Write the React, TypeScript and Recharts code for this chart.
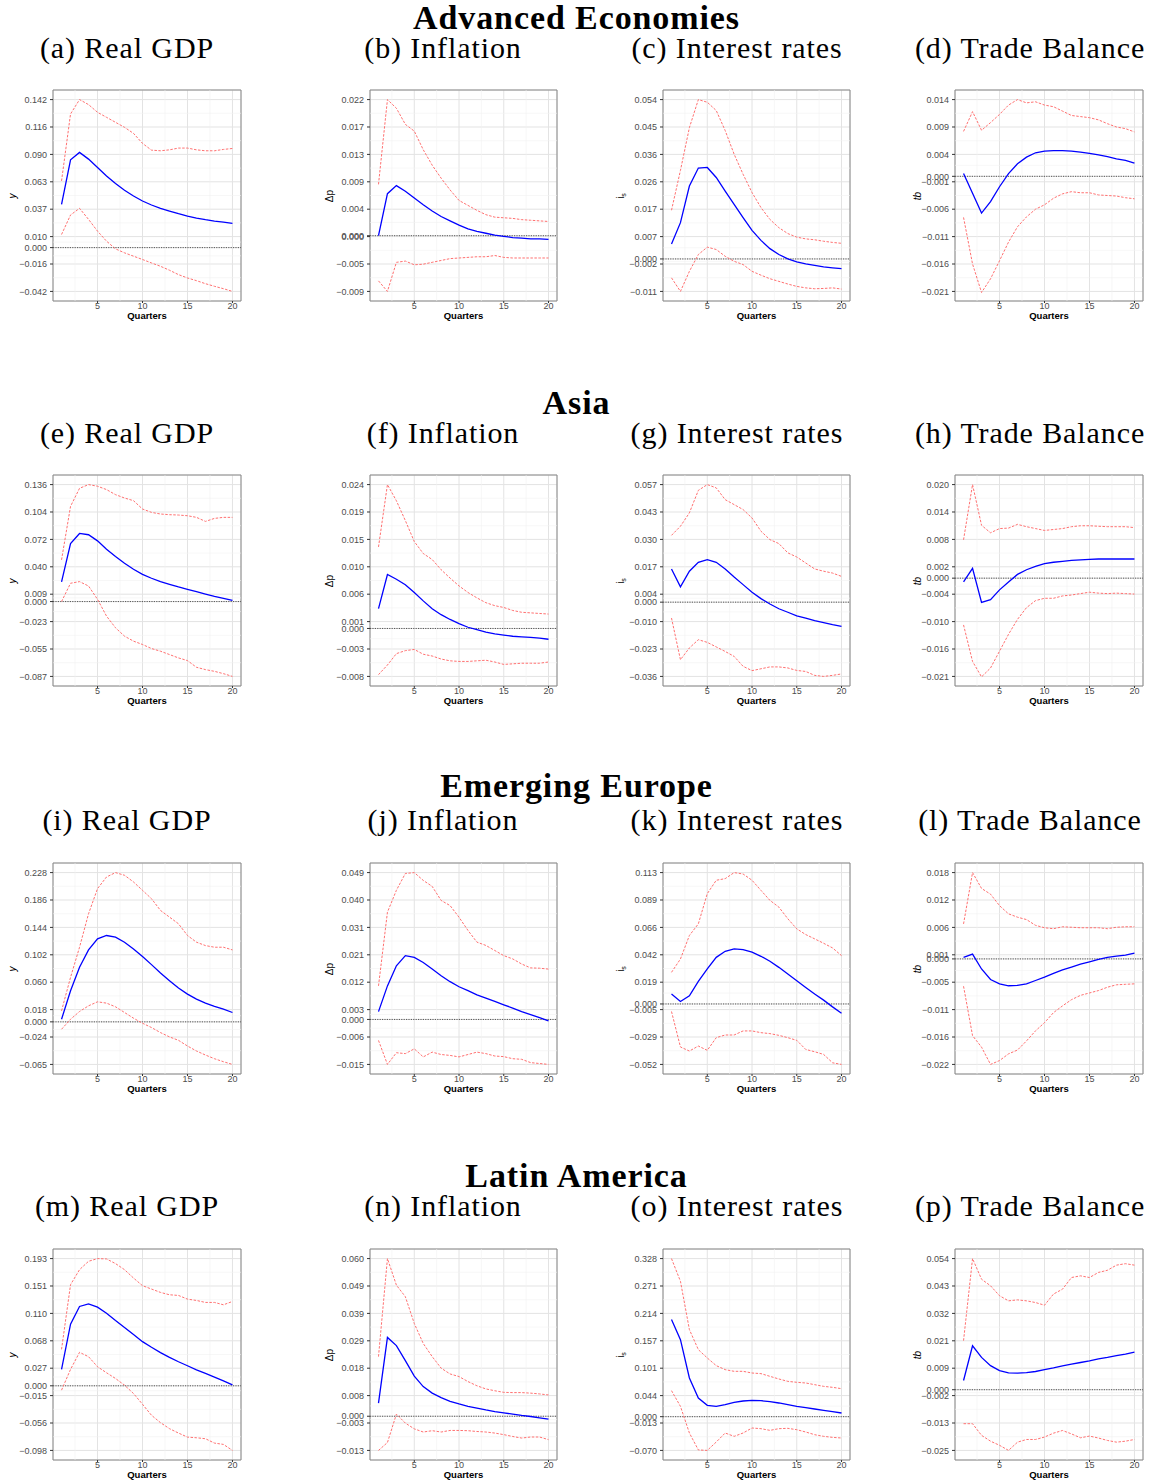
import {
  CartesianGrid,
  Line,
  LineChart,
  ReferenceArea,
  ReferenceLine,
  XAxis,
  YAxis,
} from "recharts";

const quarters = [1, 2, 3, 4, 5, 6, 7, 8, 9, 10, 11, 12, 13, 14, 15, 16, 17, 18, 19, 20];

// Advanced Economies
const advGdpMid = [0.0415, 0.0842, 0.0913, 0.0849, 0.0768, 0.0688, 0.0614, 0.055, 0.0495, 0.0447, 0.0409, 0.0377, 0.0351, 0.0325, 0.0303, 0.0284, 0.0268, 0.0255, 0.0245, 0.0232];
const advGdpUp = [0.064, 0.1282, 0.142, 0.1372, 0.1298, 0.125, 0.1202, 0.1154, 0.1096, 0.1, 0.0935, 0.0929, 0.0938, 0.0955, 0.0955, 0.0938, 0.0929, 0.0929, 0.0942, 0.0951];
const advGdpLo = [0.0126, 0.0313, 0.0377, 0.0271, 0.0158, 0.0062, -0.0012, -0.005, -0.0082, -0.0114, -0.0147, -0.0179, -0.0217, -0.0259, -0.0291, -0.0317, -0.0346, -0.0371, -0.0394, -0.042];
const advInfMid = [0.0, 0.0068, 0.0081, 0.0072, 0.0061, 0.005, 0.004, 0.0031, 0.0024, 0.0017, 0.0011, 0.0007, 0.0004, 0.0001, -0.0001, -0.0003, -0.0004, -0.0005, -0.0005, -0.0006];
const advInfUp = [0.0083, 0.022, 0.0206, 0.018, 0.0169, 0.0139, 0.0114, 0.0093, 0.0074, 0.0057, 0.0049, 0.0041, 0.0034, 0.003, 0.0029, 0.0028, 0.0026, 0.0025, 0.0024, 0.0023];
const advInfLo = [-0.0073, -0.009, -0.0043, -0.0041, -0.0047, -0.0046, -0.0043, -0.004, -0.0037, -0.0036, -0.0035, -0.0034, -0.0034, -0.0032, -0.0035, -0.0036, -0.0036, -0.0036, -0.0036, -0.0036];
const advRateMid = [0.0051, 0.0123, 0.0247, 0.0308, 0.031, 0.0276, 0.023, 0.0185, 0.014, 0.0097, 0.0063, 0.0035, 0.0015, 0.0, -0.001, -0.0017, -0.0022, -0.0027, -0.003, -0.0033];
const advRateUp = [0.0165, 0.03, 0.0445, 0.054, 0.0531, 0.0503, 0.0435, 0.0355, 0.0287, 0.0225, 0.0174, 0.0134, 0.0106, 0.0086, 0.0074, 0.0068, 0.0065, 0.006, 0.0056, 0.0053];
const advRateLo = [-0.0064, -0.011, -0.0042, 0.0015, 0.004, 0.0032, 0.0009, -0.0008, -0.0019, -0.0042, -0.0055, -0.0067, -0.0076, -0.0085, -0.0093, -0.0098, -0.0101, -0.01, -0.0098, -0.0102];
const advTbMid = [0.0005, -0.0031, -0.0067, -0.0046, -0.0019, 0.0005, 0.0023, 0.0035, 0.0043, 0.0046, 0.0047, 0.0047, 0.0046, 0.0044, 0.0042, 0.0039, 0.0036, 0.0032, 0.0029, 0.0024];
const advTbUp = [0.0082, 0.0118, 0.0084, 0.0098, 0.0113, 0.013, 0.014, 0.0134, 0.0136, 0.013, 0.0127, 0.0119, 0.0111, 0.0109, 0.0107, 0.0103, 0.0096, 0.009, 0.0087, 0.0081];
const advTbLo = [-0.0075, -0.016, -0.0212, -0.0187, -0.0154, -0.012, -0.0092, -0.0074, -0.006, -0.0052, -0.004, -0.0032, -0.0028, -0.003, -0.003, -0.0034, -0.0035, -0.0036, -0.0039, -0.0041];

// Asia
const asiaGdpMid = [0.0228, 0.0675, 0.0792, 0.0777, 0.0706, 0.0609, 0.0524, 0.0446, 0.0376, 0.0317, 0.0271, 0.0232, 0.0201, 0.017, 0.0142, 0.0115, 0.0088, 0.0061, 0.0037, 0.0014];
const asiaGdpUp = [0.0485, 0.1107, 0.1317, 0.136, 0.1341, 0.1302, 0.1243, 0.1204, 0.1173, 0.1076, 0.1037, 0.1018, 0.101, 0.1006, 0.0998, 0.0979, 0.0932, 0.0967, 0.0979, 0.0979];
const asiaGdpLo = [0.0, 0.0213, 0.0232, 0.0181, 0.0026, -0.0169, -0.0305, -0.0402, -0.046, -0.0499, -0.0546, -0.0577, -0.0616, -0.0655, -0.0686, -0.0764, -0.0791, -0.0811, -0.0838, -0.087];
const asiaInfMid = [0.0033, 0.009, 0.0082, 0.0073, 0.006, 0.0046, 0.0033, 0.0023, 0.0015, 0.0008, 0.0002, -0.0002, -0.0006, -0.0009, -0.0011, -0.0013, -0.0014, -0.0015, -0.0016, -0.0018];
const asiaInfUp = [0.0136, 0.024, 0.0213, 0.018, 0.0145, 0.0125, 0.0115, 0.0098, 0.0084, 0.0071, 0.006, 0.0051, 0.0043, 0.0038, 0.0035, 0.003, 0.0027, 0.0026, 0.0025, 0.0024];
const asiaInfLo = [-0.0077, -0.0061, -0.0042, -0.0037, -0.0035, -0.0043, -0.0046, -0.0051, -0.0054, -0.0055, -0.0055, -0.0054, -0.0053, -0.0056, -0.006, -0.0059, -0.0058, -0.0058, -0.0058, -0.0056];
const asiaRateMid = [0.0161, 0.0074, 0.015, 0.0193, 0.0206, 0.0193, 0.0161, 0.0122, 0.0085, 0.0048, 0.0017, -0.0009, -0.0032, -0.0049, -0.0066, -0.0078, -0.009, -0.0099, -0.0109, -0.0117];
const asiaRateUp = [0.0324, 0.0368, 0.0433, 0.0542, 0.057, 0.0554, 0.0497, 0.0473, 0.0449, 0.0408, 0.0344, 0.0303, 0.0284, 0.0239, 0.0219, 0.019, 0.0161, 0.015, 0.0141, 0.0125];
const asiaRateLo = [-0.0077, -0.0279, -0.0222, -0.0182, -0.0195, -0.0217, -0.0239, -0.0263, -0.0311, -0.0332, -0.0323, -0.0314, -0.0314, -0.0319, -0.0331, -0.0336, -0.0355, -0.036, -0.0355, -0.0348];
const asiaTbMid = [-0.0008, 0.0021, -0.0052, -0.0046, -0.0025, -0.0008, 0.0008, 0.0018, 0.0025, 0.0031, 0.0034, 0.0036, 0.0038, 0.0039, 0.004, 0.0041, 0.0041, 0.0041, 0.0041, 0.0041];
const asiaTbUp = [0.0082, 0.02, 0.0113, 0.0097, 0.0106, 0.0107, 0.0115, 0.011, 0.0106, 0.0102, 0.0104, 0.0106, 0.011, 0.0112, 0.0112, 0.0111, 0.011, 0.011, 0.011, 0.0108];
const asiaTbLo = [-0.01, -0.0178, -0.0211, -0.0192, -0.0156, -0.012, -0.0088, -0.0063, -0.0048, -0.0043, -0.0043, -0.0038, -0.0036, -0.0033, -0.003, -0.0032, -0.0033, -0.0032, -0.0033, -0.0034];

// Emerging Europe
const eurGdpMid = [0.004, 0.0475, 0.0833, 0.1099, 0.1268, 0.1319, 0.1293, 0.1217, 0.1114, 0.0997, 0.0874, 0.0746, 0.0629, 0.0516, 0.0424, 0.0347, 0.0286, 0.0235, 0.0194, 0.0143];
const eurGdpUp = [0.0168, 0.068, 0.114, 0.1651, 0.2035, 0.2213, 0.228, 0.2239, 0.2137, 0.2009, 0.1881, 0.1702, 0.16, 0.1498, 0.1319, 0.1217, 0.1165, 0.114, 0.114, 0.1099];
const eurGdpLo = [-0.0113, 0.004, 0.0158, 0.0245, 0.0306, 0.0286, 0.023, 0.0143, 0.0056, -0.0021, -0.0087, -0.0164, -0.023, -0.0282, -0.0369, -0.0445, -0.0507, -0.0563, -0.0609, -0.065];
const eurInfMid = [0.0026, 0.0112, 0.0179, 0.0213, 0.0207, 0.019, 0.0168, 0.0146, 0.0126, 0.0109, 0.0096, 0.0082, 0.0071, 0.006, 0.0049, 0.0038, 0.0026, 0.0016, 0.0006, -0.0005];
const eurInfUp = [0.0112, 0.0358, 0.0431, 0.0487, 0.049, 0.0464, 0.0444, 0.0397, 0.038, 0.0341, 0.0297, 0.0258, 0.0247, 0.023, 0.0213, 0.0202, 0.0185, 0.0172, 0.0171, 0.0168];
const eurInfLo = [-0.007, -0.015, -0.0111, -0.0114, -0.0098, -0.0125, -0.0109, -0.0117, -0.012, -0.0125, -0.0117, -0.0109, -0.0114, -0.0122, -0.0124, -0.0131, -0.0133, -0.0144, -0.0147, -0.015];
const eurRateMid = [0.0085, 0.0021, 0.007, 0.0194, 0.0301, 0.0401, 0.0453, 0.0473, 0.0468, 0.0445, 0.041, 0.0367, 0.0315, 0.0257, 0.02, 0.0142, 0.0085, 0.0033, -0.0025, -0.008];
const eurRateUp = [0.0272, 0.0387, 0.0589, 0.0689, 0.0949, 0.1064, 0.1078, 0.113, 0.1118, 0.1064, 0.0977, 0.0891, 0.0833, 0.0733, 0.0646, 0.0597, 0.056, 0.0522, 0.0482, 0.0416];
const eurRateLo = [-0.0065, -0.037, -0.0405, -0.0362, -0.0399, -0.029, -0.0267, -0.0267, -0.0232, -0.0232, -0.0247, -0.0255, -0.027, -0.029, -0.0313, -0.0391, -0.0411, -0.0434, -0.0506, -0.052];
const eurTbMid = [0.0003, 0.001, -0.0021, -0.0043, -0.0052, -0.0056, -0.0055, -0.0052, -0.0045, -0.0038, -0.003, -0.0023, -0.0017, -0.0011, -0.0006, -0.0001, 0.0003, 0.0006, 0.0008, 0.0012];
const eurTbUp = [0.0073, 0.018, 0.0147, 0.0135, 0.0111, 0.0094, 0.0087, 0.0082, 0.007, 0.0065, 0.0063, 0.0067, 0.0066, 0.0065, 0.0065, 0.0065, 0.0063, 0.0066, 0.0067, 0.0067];
const eurTbLo = [-0.0057, -0.016, -0.0184, -0.022, -0.0212, -0.0198, -0.019, -0.0171, -0.015, -0.0133, -0.0112, -0.0098, -0.0085, -0.0076, -0.0071, -0.0066, -0.0059, -0.0054, -0.0053, -0.0052];

// Latin America
const latGdpMid = [0.0249, 0.0934, 0.1204, 0.1244, 0.1193, 0.1102, 0.099, 0.0883, 0.0777, 0.067, 0.0584, 0.0503, 0.0431, 0.0365, 0.0304, 0.0243, 0.0188, 0.0132, 0.0076, 0.0015];
const latGdpUp = [0.0553, 0.1534, 0.1762, 0.1889, 0.193, 0.1925, 0.1854, 0.1762, 0.1635, 0.1519, 0.1468, 0.1417, 0.1381, 0.1371, 0.1315, 0.1295, 0.1265, 0.1265, 0.1229, 0.128];
const latGdpLo = [-0.0066, 0.0249, 0.0508, 0.0442, 0.0289, 0.0198, 0.0111, 0.001, -0.0117, -0.028, -0.0447, -0.0559, -0.065, -0.0717, -0.0778, -0.0788, -0.0803, -0.0869, -0.0889, -0.098];
const latInfMid = [0.005, 0.03, 0.0269, 0.0212, 0.0153, 0.0113, 0.0088, 0.0071, 0.0057, 0.0047, 0.0038, 0.0031, 0.0024, 0.0018, 0.0013, 0.0008, 0.0003, -0.0001, -0.0006, -0.0011];
const latInfUp = [0.0227, 0.06, 0.0499, 0.0455, 0.0353, 0.0277, 0.0227, 0.0183, 0.0161, 0.0151, 0.0132, 0.0116, 0.0104, 0.0097, 0.0091, 0.009, 0.009, 0.0088, 0.0085, 0.0081];
const latInfLo = [-0.013, -0.01, 0.0008, -0.0026, -0.0048, -0.006, -0.0055, -0.006, -0.0054, -0.0054, -0.0055, -0.0058, -0.006, -0.0064, -0.007, -0.0077, -0.0083, -0.0079, -0.0079, -0.0089];
const latRateMid = [0.2014, 0.1598, 0.0803, 0.0387, 0.0235, 0.0214, 0.0249, 0.0297, 0.0325, 0.0339, 0.0332, 0.0311, 0.0284, 0.0249, 0.0214, 0.0187, 0.0159, 0.0131, 0.0104, 0.0076];
const latRateUp = [0.328, 0.2809, 0.1806, 0.1391, 0.1218, 0.1059, 0.0976, 0.0941, 0.0941, 0.0906, 0.0893, 0.0837, 0.0782, 0.0733, 0.0713, 0.0699, 0.0664, 0.0629, 0.0609, 0.0581];
const latRateLo = [0.054, 0.0214, -0.0339, -0.069, -0.07, -0.0526, -0.0339, -0.0408, -0.0339, -0.0235, -0.0249, -0.0284, -0.0249, -0.0242, -0.027, -0.0318, -0.0374, -0.0408, -0.0429, -0.0443];
const latTbMid = [0.0038, 0.0181, 0.0133, 0.0099, 0.0079, 0.0069, 0.0068, 0.007, 0.0075, 0.0083, 0.009, 0.0098, 0.0105, 0.0112, 0.0119, 0.0127, 0.0133, 0.014, 0.0147, 0.0155];
const latTbUp = [0.0202, 0.054, 0.0455, 0.0428, 0.0387, 0.0366, 0.037, 0.0366, 0.0359, 0.0348, 0.0394, 0.0414, 0.0462, 0.0469, 0.0462, 0.0483, 0.0492, 0.0513, 0.0519, 0.0513];
const latTbLo = [-0.014, -0.014, -0.0188, -0.0212, -0.0229, -0.025, -0.0216, -0.0205, -0.0205, -0.0195, -0.0179, -0.0168, -0.0182, -0.0198, -0.0191, -0.0199, -0.0209, -0.0216, -0.0212, -0.0205];

// y tick labels (8 evenly spaced breaks, bottom to top); 0 is added as an extra break
const ticksA = [-0.042, -0.016, 0.01, 0.037, 0.063, 0.09, 0.116, 0.142];
const ticksB = [-0.009, -0.005, 0.0, 0.004, 0.009, 0.013, 0.017, 0.022];
const ticksC = [-0.011, -0.002, 0.007, 0.017, 0.026, 0.036, 0.045, 0.054];
const ticksD = [-0.021, -0.016, -0.011, -0.006, -0.001, 0.004, 0.009, 0.014];
const ticksE = [-0.087, -0.055, -0.023, 0.009, 0.04, 0.072, 0.104, 0.136];
const ticksF = [-0.008, -0.003, 0.001, 0.006, 0.01, 0.015, 0.019, 0.024];
const ticksG = [-0.036, -0.023, -0.01, 0.004, 0.017, 0.03, 0.043, 0.057];
const ticksH = [-0.021, -0.016, -0.01, -0.004, 0.002, 0.008, 0.014, 0.02];
const ticksI = [-0.065, -0.024, 0.018, 0.06, 0.102, 0.144, 0.186, 0.228];
const ticksJ = [-0.015, -0.006, 0.003, 0.012, 0.021, 0.031, 0.04, 0.049];
const ticksK = [-0.052, -0.029, -0.005, 0.019, 0.042, 0.066, 0.089, 0.113];
const ticksL = [-0.022, -0.016, -0.011, -0.005, 0.001, 0.006, 0.012, 0.018];
const ticksM = [-0.098, -0.056, -0.015, 0.027, 0.068, 0.11, 0.151, 0.193];
const ticksN = [-0.013, -0.003, 0.008, 0.018, 0.029, 0.039, 0.049, 0.06];
const ticksO = [-0.07, -0.013, 0.044, 0.101, 0.157, 0.214, 0.271, 0.328];
const ticksP = [-0.025, -0.013, -0.002, 0.009, 0.021, 0.032, 0.043, 0.054];

const xTicks = [5, 10, 15, 20];
const xMinor = [2.5, 7.5, 12.5, 17.5];

const groupTitles = ["Advanced Economies", "Asia", "Emerging Europe", "Latin America"];
const panelTitles = [
  ["(a) Real GDP", "(b) Inflation", "(c) Interest rates", "(d) Trade Balance"],
  ["(e) Real GDP", "(f) Inflation", "(g) Interest rates", "(h) Trade Balance"],
  ["(i) Real GDP", "(j) Inflation", "(k) Interest rates", "(l) Trade Balance"],
  ["(m) Real GDP", "(n) Inflation", "(o) Interest rates", "(p) Trade Balance"],
];

const panels = [
  [
    { mid: advGdpMid, up: advGdpUp, lo: advGdpLo, ticks: ticksA },
    { mid: advInfMid, up: advInfUp, lo: advInfLo, ticks: ticksB },
    { mid: advRateMid, up: advRateUp, lo: advRateLo, ticks: ticksC },
    { mid: advTbMid, up: advTbUp, lo: advTbLo, ticks: ticksD },
  ],
  [
    { mid: asiaGdpMid, up: asiaGdpUp, lo: asiaGdpLo, ticks: ticksE },
    { mid: asiaInfMid, up: asiaInfUp, lo: asiaInfLo, ticks: ticksF },
    { mid: asiaRateMid, up: asiaRateUp, lo: asiaRateLo, ticks: ticksG },
    { mid: asiaTbMid, up: asiaTbUp, lo: asiaTbLo, ticks: ticksH },
  ],
  [
    { mid: eurGdpMid, up: eurGdpUp, lo: eurGdpLo, ticks: ticksI },
    { mid: eurInfMid, up: eurInfUp, lo: eurInfLo, ticks: ticksJ },
    { mid: eurRateMid, up: eurRateUp, lo: eurRateLo, ticks: ticksK },
    { mid: eurTbMid, up: eurTbUp, lo: eurTbLo, ticks: ticksL },
  ],
  [
    { mid: latGdpMid, up: latGdpUp, lo: latGdpLo, ticks: ticksM },
    { mid: latInfMid, up: latInfUp, lo: latInfLo, ticks: ticksN },
    { mid: latRateMid, up: latRateUp, lo: latRateLo, ticks: ticksO },
    { mid: latTbMid, up: latTbUp, lo: latTbLo, ticks: ticksP },
  ],
];

// layout
const COLS = [
  { left: 53, w: 188, ylab: 40, title: 127 },
  { left: 370, w: 187, ylab: 40, title: 443 },
  { left: 663, w: 187, ylab: 41, title: 737 },
  { left: 955, w: 188, ylab: 37, title: 1030 },
];
const ROWS = [
  { top: 90, group: 18, sub: 48 },
  { top: 475, group: 403, sub: 433 },
  { top: 863, group: 786, sub: 820 },
  { top: 1249, group: 1176, sub: 1206 },
];
const PLOT_H = 211;
const Y_AXIS_W = 50;
const TOP_PAD = 4;
const X_AXIS_H = 25;
const SANS = "'Liberation Sans', Arial, Helvetica, sans-serif";
const SERIF = "'Liberation Serif', 'Times New Roman', serif";

function fmt(v: number) {
  const s = Math.abs(v).toFixed(3);
  return v < -0.0005 ? "\u2212" + s : s;
}

function YLabel({ kind }: { kind: number }) {
  if (kind === 0) return <span style={{ fontStyle: "italic" }}>y</span>;
  if (kind === 1) return <span>Δp</span>;
  if (kind === 2)
    return (
      <span>
        i<sub style={{ fontSize: 7, verticalAlign: -2 }}>s</sub>
      </span>
    );
  return <span style={{ fontStyle: "italic" }}>tb</span>;
}

function Panel({ r, c }: { r: number; c: number }) {
  const p = panels[r][c];
  const col = COLS[c];
  const row = ROWS[r];
  const data = quarters.map((q, i) => ({ q, mid: p.mid[i], up: p.up[i], lo: p.lo[i] }));

  const lo = p.ticks[0];
  const hi = p.ticks[p.ticks.length - 1];
  const step = (hi - lo) / (p.ticks.length - 1);
  const breaks = p.ticks.map((_, k) => lo + k * step);
  const pad = (hi - lo) * 0.05;
  const domain: [number, number] = [lo - pad, hi + pad];
  const yTicks = [...breaks, 0].sort((a, b) => a - b);
  const yMinor = yTicks.slice(1).map((v, i) => (v + yTicks[i]) / 2);

  const label = (v: number) => {
    const k = breaks.findIndex((b) => Math.abs(b - v) < 1e-12);
    return k >= 0 ? fmt(p.ticks[k]) : fmt(v);
  };

  return (
    <>
      <div style={{ position: "absolute", left: col.left - Y_AXIS_W, top: row.top - TOP_PAD }}>
        <LineChart
          width={Y_AXIS_W + col.w + 2}
          height={TOP_PAD + PLOT_H + X_AXIS_H}
          data={data}
          margin={{ top: TOP_PAD, right: 2, bottom: 0, left: 0 }}
          style={{ fontFamily: SANS }}
        >
          <XAxis
            dataKey="q"
            type="number"
            domain={[0.05, 20.95]}
            ticks={xTicks}
            allowDataOverflow
            height={X_AXIS_H}
            axisLine={false}
            tickSize={2}
            tickMargin={0}
            tickLine={{ stroke: "#333" }}
            tick={{ fontSize: 9, fill: "#4d4d4d" }}
            label={{ value: "Quarters", position: "insideBottom", offset: 7, fontSize: 9.5, fontWeight: 700, fill: "#000" }}
          />
          <YAxis
            type="number"
            domain={domain}
            ticks={yTicks}
            interval={0}
            allowDataOverflow
            width={Y_AXIS_W}
            axisLine={false}
            tickSize={3}
            tickMargin={3}
            tickLine={{ stroke: "#333" }}
            tick={{ fontSize: 9, fill: "#4d4d4d" }}
            tickFormatter={label}
          />
          {yMinor.map((v, i) => (
            <ReferenceLine key={"ym" + i} y={v} stroke="#f1f1f1" strokeWidth={0.6} />
          ))}
          {xMinor.map((v) => (
            <ReferenceLine key={"xm" + v} x={v} stroke="#f1f1f1" strokeWidth={0.6} />
          ))}
          <CartesianGrid stroke="#e3e3e3" strokeWidth={1} />
          <ReferenceLine y={0} stroke="#444" strokeDasharray="1.2 1.2" strokeWidth={0.9} />
          <Line dataKey="up" type="linear" stroke="#ff7070" strokeWidth={1} strokeDasharray="2.5 1.5" dot={false} isAnimationActive={false} />
          <Line dataKey="lo" type="linear" stroke="#ff7070" strokeWidth={1} strokeDasharray="2.5 1.5" dot={false} isAnimationActive={false} />
          <Line dataKey="mid" type="linear" stroke="#0000ff" strokeWidth={1.3} dot={false} isAnimationActive={false} />
          <ReferenceArea x1={0.05} x2={20.95} y1={domain[0]} y2={domain[1]} fill="none" fillOpacity={0} stroke="#888" strokeWidth={1} />
        </LineChart>
      </div>
      <div
        style={{
          position: "absolute",
          left: col.left - col.ylab,
          top: row.top + PLOT_H / 2,
          transform: "translate(-50%, -50%) rotate(-90deg)",
          fontFamily: SANS,
          fontSize: 10,
          lineHeight: "12px",
          color: "#000",
          whiteSpace: "nowrap",
        }}
      >
        <YLabel kind={c} />
      </div>
      <div
        style={{
          position: "absolute",
          left: col.title - 200,
          width: 400,
          top: row.sub - 18,
          height: 36,
          lineHeight: "36px",
          textAlign: "center",
          fontFamily: SERIF,
          fontSize: 30,
          letterSpacing: 0.9,
          color: "#000",
        }}
      >
        {panelTitles[r][c]}
      </div>
    </>
  );
}

export default function App() {
  return (
    <div style={{ position: "absolute", left: 0, top: 0, width: 1153, height: 1480, background: "#fff", overflow: "hidden" }}>
      {ROWS.map((row, r) => (
        <div
          key={"g" + r}
          style={{
            position: "absolute",
            left: 0,
            width: 1153,
            top: row.group - 20,
            height: 40,
            lineHeight: "40px",
            textAlign: "center",
            fontFamily: SERIF,
            fontWeight: 700,
            fontSize: 34,
            letterSpacing: 0.9,
            color: "#000",
          }}
        >
          {groupTitles[r]}
        </div>
      ))}
      {ROWS.map((_, r) => COLS.map((__, c) => <Panel key={r + "-" + c} r={r} c={c} />))}
    </div>
  );
}
